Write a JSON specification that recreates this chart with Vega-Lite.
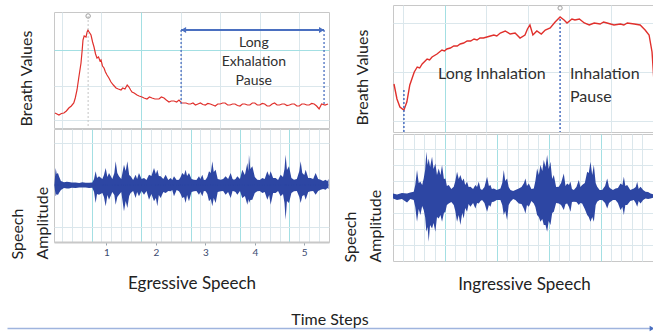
{
  "$schema": "https://vega.github.io/schema/vega-lite/v6.json",
  "background": "white",
  "padding": {"left": 8, "top": 3, "right": 0, "bottom": 0},
  "config": {"font": "Lato", "view": {"stroke": "#c8c8c8"}},
  "datasets": {
    "leftBreath": [
      {"t":-0.04,"v":15},{"t":0.0,"v":14},{"t":0.04,"v":13},{"t":0.09,"v":14.5},{"t":0.14,"v":15},{"t":0.19,"v":17},{"t":0.24,"v":20},{"t":0.29,"v":22},{"t":0.34,"v":25},{"t":0.37,"v":30},{"t":0.405,"v":38},{"t":0.44,"v":50},{"t":0.486,"v":65},{"t":0.51,"v":78},{"t":0.526,"v":88},{"t":0.55,"v":92},{"t":0.587,"v":91},{"t":0.61,"v":96},{"t":0.627,"v":98},{"t":0.65,"v":96},{"t":0.688,"v":93},{"t":0.72,"v":86},{"t":0.749,"v":81},{"t":0.78,"v":74},{"t":0.809,"v":70},{"t":0.84,"v":71},{"t":0.87,"v":67},{"t":0.89,"v":68},{"t":0.92,"v":62},{"t":0.951,"v":60},{"t":0.98,"v":56},{"t":1.012,"v":53},{"t":1.05,"v":50},{"t":1.092,"v":46},{"t":1.14,"v":43},{"t":1.194,"v":40},{"t":1.24,"v":39},{"t":1.295,"v":38},{"t":1.33,"v":40},{"t":1.375,"v":39},{"t":1.42,"v":43},{"t":1.456,"v":41},{"t":1.49,"v":38},{"t":1.517,"v":36},{"t":1.56,"v":35},{"t":1.618,"v":33},{"t":1.66,"v":32},{"t":1.719,"v":31},{"t":1.76,"v":30},{"t":1.82,"v":29},{"t":1.87,"v":31},{"t":1.921,"v":30},{"t":1.98,"v":29},{"t":2.063,"v":29},{"t":2.11,"v":31},{"t":2.164,"v":30},{"t":2.21,"v":28},{"t":2.265,"v":26},{"t":2.31,"v":27},{"t":2.366,"v":27},{"t":2.42,"v":26},{"t":2.467,"v":28},{"t":2.52,"v":25},{"t":2.609,"v":25},{"t":2.66,"v":24},{"t":2.7,"v":24},{"t":2.75,"v":25},{"t":2.8,"v":23},{"t":2.85,"v":24},{"t":2.9,"v":25},{"t":2.95,"v":23.5},{"t":3.0,"v":23},{"t":3.05,"v":24.5},{"t":3.1,"v":24},{"t":3.15,"v":23},{"t":3.2,"v":22},{"t":3.25,"v":24},{"t":3.3,"v":24},{"t":3.35,"v":25},{"t":3.4,"v":25},{"t":3.45,"v":23},{"t":3.5,"v":23},{"t":3.55,"v":24},{"t":3.6,"v":24},{"t":3.65,"v":22.5},{"t":3.7,"v":22},{"t":3.75,"v":24},{"t":3.8,"v":24},{"t":3.85,"v":23},{"t":3.9,"v":23},{"t":3.95,"v":25},{"t":4.0,"v":25},{"t":4.05,"v":23},{"t":4.1,"v":23},{"t":4.15,"v":24.5},{"t":4.2,"v":24},{"t":4.25,"v":22},{"t":4.3,"v":22},{"t":4.35,"v":24},{"t":4.4,"v":25},{"t":4.45,"v":23},{"t":4.5,"v":23},{"t":4.55,"v":24},{"t":4.6,"v":24},{"t":4.65,"v":22.5},{"t":4.7,"v":23},{"t":4.75,"v":24},{"t":4.8,"v":24},{"t":4.85,"v":22},{"t":4.9,"v":22},{"t":4.95,"v":24},{"t":5.0,"v":24},{"t":5.05,"v":23},{"t":5.1,"v":23},{"t":5.15,"v":24.5},{"t":5.2,"v":24},{"t":5.25,"v":22},{"t":5.3,"v":19},{"t":5.35,"v":24},{"t":5.42,"v":23},{"t":5.48,"v":24}
    ],
    "leftPeak": [{"t": 0.63, "v": 112}],
    "leftPauseEdges": [{"t": 2.51, "top": 98, "bottom": 23}, {"t": 5.4, "top": 98, "bottom": 23}],
    "leftPause": [{"start": 2.51, "end": 5.4, "level": 98}],
    "leftArrowHeads": [{"t": 2.56, "v": 98, "dir": "left"}, {"t": 5.35, "v": 98, "dir": "right"}],
    "leftLabel": [{"t": 3.98, "v": 85, "label": "Long\nExhalation\nPause"}],
    "leftSpeech": [
      {"t":-0.05,"up":1.5,"lo":-1.5},{"t":-0.026,"up":17,"lo":-11.3},{"t":-0.005,"up":11,"lo":-9},{"t":0.02,"up":12,"lo":-10},{"t":0.041,"up":8.7,"lo":-8},{"t":0.08,"up":4,"lo":-5},{"t":0.142,"up":2.7,"lo":-3},{"t":0.2,"up":3.2,"lo":-3.5},{"t":0.243,"up":3,"lo":-3.5},{"t":0.3,"up":2.4,"lo":-2.8},{"t":0.378,"up":2.5,"lo":-3},{"t":0.45,"up":2,"lo":-2.6},{"t":0.513,"up":2.7,"lo":-2.5},{"t":0.58,"up":2.2,"lo":-2.6},{"t":0.648,"up":2.3,"lo":-3},{"t":0.715,"up":2.5,"lo":-2.8},{"t":0.75,"up":6,"lo":-7},{"t":0.782,"up":13.7,"lo":-18},{"t":0.81,"up":7,"lo":-9},{"t":0.85,"up":8.7,"lo":-9.7},{"t":0.917,"up":6,"lo":-8},{"t":0.95,"up":10,"lo":-12},{"t":0.985,"up":17,"lo":-21.3},{"t":1.02,"up":8,"lo":-10},{"t":1.052,"up":12,"lo":-14.7},{"t":1.119,"up":6,"lo":-7},{"t":1.16,"up":12,"lo":-10},{"t":1.187,"up":23.7,"lo":-19.7},{"t":1.22,"up":12,"lo":-12},{"t":1.254,"up":8.7,"lo":-9.7},{"t":1.3,"up":6,"lo":-7},{"t":1.355,"up":20.3,"lo":-26.3},{"t":1.39,"up":14,"lo":-16},{"t":1.423,"up":23.7,"lo":-23},{"t":1.46,"up":10,"lo":-11},{"t":1.49,"up":8.7,"lo":-8},{"t":1.54,"up":5,"lo":-6},{"t":1.591,"up":10.3,"lo":-13},{"t":1.62,"up":6,"lo":-7},{"t":1.658,"up":12,"lo":-11.3},{"t":1.71,"up":6,"lo":-6},{"t":1.76,"up":7,"lo":-9.7},{"t":1.81,"up":5,"lo":-6},{"t":1.861,"up":10.3,"lo":-14.7},{"t":1.91,"up":9,"lo":-9},{"t":1.962,"up":17,"lo":-16.3},{"t":2.0,"up":11,"lo":-13},{"t":2.029,"up":15.3,"lo":-21.3},{"t":2.06,"up":9,"lo":-10},{"t":2.096,"up":8.7,"lo":-13},{"t":2.15,"up":6,"lo":-7},{"t":2.198,"up":10.3,"lo":-8},{"t":2.25,"up":5,"lo":-6},{"t":2.299,"up":7,"lo":-6.3},{"t":2.33,"up":5,"lo":-5},{"t":2.366,"up":8.7,"lo":-11.3},{"t":2.42,"up":5,"lo":-5},{"t":2.467,"up":5.3,"lo":-6.3},{"t":2.5,"up":8,"lo":-9},{"t":2.534,"up":12,"lo":-13},{"t":2.57,"up":10,"lo":-12},{"t":2.602,"up":15.3,"lo":-18},{"t":2.63,"up":9,"lo":-10},{"t":2.669,"up":12,"lo":-16.3},{"t":2.72,"up":6,"lo":-7},{"t":2.77,"up":5.3,"lo":-6.3},{"t":2.82,"up":5,"lo":-6},{"t":2.871,"up":8.7,"lo":-9.7},{"t":2.9,"up":6,"lo":-7},{"t":2.939,"up":10.3,"lo":-11.3},{"t":2.97,"up":5,"lo":-6},{"t":3.006,"up":5.3,"lo":-6.3},{"t":3.04,"up":8,"lo":-9},{"t":3.074,"up":13.7,"lo":-16.3},{"t":3.11,"up":12,"lo":-14},{"t":3.141,"up":23.7,"lo":-21.3},{"t":3.17,"up":13,"lo":-13},{"t":3.208,"up":15.3,"lo":-18},{"t":3.25,"up":6,"lo":-7},{"t":3.309,"up":5.3,"lo":-6.3},{"t":3.36,"up":6,"lo":-6},{"t":3.41,"up":8.7,"lo":-9.7},{"t":3.46,"up":6,"lo":-7},{"t":3.512,"up":12,"lo":-13},{"t":3.55,"up":6,"lo":-6},{"t":3.579,"up":5.3,"lo":-6.3},{"t":3.61,"up":6,"lo":-7},{"t":3.646,"up":8.7,"lo":-9.7},{"t":3.7,"up":6,"lo":-6},{"t":3.747,"up":15.3,"lo":-13},{"t":3.8,"up":10,"lo":-11},{"t":3.849,"up":22,"lo":-19.7},{"t":3.87,"up":14,"lo":-14},{"t":3.882,"up":30.3,"lo":-18},{"t":3.91,"up":16,"lo":-15},{"t":3.95,"up":18.7,"lo":-14.7},{"t":4.0,"up":8,"lo":-8},{"t":4.051,"up":5.3,"lo":-6.3},{"t":4.1,"up":5,"lo":-6},{"t":4.152,"up":7,"lo":-8},{"t":4.2,"up":6,"lo":-7},{"t":4.253,"up":13.7,"lo":-14.7},{"t":4.29,"up":9,"lo":-10},{"t":4.32,"up":13.7,"lo":-19.7},{"t":4.37,"up":7,"lo":-8},{"t":4.421,"up":7,"lo":-8},{"t":4.47,"up":5,"lo":-6},{"t":4.522,"up":10.3,"lo":-11.3},{"t":4.57,"up":8,"lo":-9},{"t":4.6,"up":16,"lo":-18},{"t":4.623,"up":30.3,"lo":-34.7},{"t":4.65,"up":15,"lo":-16},{"t":4.691,"up":18.7,"lo":-18},{"t":4.74,"up":7,"lo":-8},{"t":4.792,"up":5.3,"lo":-6.3},{"t":4.85,"up":6,"lo":-6},{"t":4.9,"up":14,"lo":-12},{"t":4.927,"up":23.7,"lo":-18},{"t":4.96,"up":12,"lo":-11},{"t":5.0,"up":10,"lo":-10},{"t":5.028,"up":15.3,"lo":-14.7},{"t":5.08,"up":7,"lo":-7},{"t":5.129,"up":7,"lo":-6.3},{"t":5.18,"up":6,"lo":-6},{"t":5.23,"up":12,"lo":-9.7},{"t":5.28,"up":6,"lo":-6},{"t":5.331,"up":5.3,"lo":-4.7},{"t":5.38,"up":4,"lo":-4},{"t":5.432,"up":5.3,"lo":-4.7},{"t":5.466,"up":3.7,"lo":-3},{"t":5.49,"up":6,"lo":-4}
    ],
    "rightBreath": [
      {"t":0.02,"v":48},{"t":0.08,"v":33},{"t":0.14,"v":25},{"t":0.22,"v":22},{"t":0.28,"v":30},{"t":0.34,"v":47},{"t":0.43,"v":60},{"t":0.49,"v":65},{"t":0.54,"v":64},{"t":0.59,"v":68},{"t":0.69,"v":73},{"t":0.74,"v":72},{"t":0.79,"v":75},{"t":0.89,"v":78},{"t":0.99,"v":82},{"t":1.04,"v":81},{"t":1.09,"v":83},{"t":1.16,"v":84},{"t":1.23,"v":86},{"t":1.3,"v":86},{"t":1.36,"v":88},{"t":1.43,"v":89},{"t":1.5,"v":91},{"t":1.57,"v":91},{"t":1.64,"v":93},{"t":1.7,"v":92},{"t":1.76,"v":94},{"t":1.83,"v":94},{"t":1.9,"v":95},{"t":1.97,"v":96},{"t":2.04,"v":97},{"t":2.1,"v":96},{"t":2.17,"v":99},{"t":2.27,"v":101},{"t":2.37,"v":98},{"t":2.47,"v":99},{"t":2.57,"v":94},{"t":2.67,"v":97},{"t":2.72,"v":103},{"t":2.77,"v":107},{"t":2.83,"v":97},{"t":2.91,"v":101},{"t":3.0,"v":98},{"t":3.08,"v":102},{"t":3.18,"v":104},{"t":3.28,"v":110},{"t":3.38,"v":115},{"t":3.46,"v":112},{"t":3.52,"v":109},{"t":3.62,"v":113},{"t":3.68,"v":112},{"t":3.77,"v":113},{"t":3.87,"v":109},{"t":3.97,"v":107},{"t":4.07,"v":109},{"t":4.19,"v":108},{"t":4.26,"v":110},{"t":4.33,"v":109},{"t":4.4,"v":108},{"t":4.47,"v":107},{"t":4.6,"v":108},{"t":4.67,"v":107},{"t":4.74,"v":109},{"t":4.88,"v":108},{"t":5.0,"v":107},{"t":5.1,"v":102},{"t":5.18,"v":97},{"t":5.24,"v":80},{"t":5.28,"v":50}
    ],
    "rightLines": [{"t": 0.22, "top": 42}, {"t": 3.38, "top": 113}],
    "rightPeak": [{"t": 3.38, "v": 124}],
    "rightLabelA": [{"t": 2.0, "v": 58, "label": "Long Inhalation"}],
    "rightLabelB": [{"t": 3.58, "v": 58, "label": "Inhalation\nPause"}],
    "rightSpeech": [
      {"t":0.0,"up":1.6,"lo":-3.4},{"t":0.081,"up":0.6,"lo":-5},{"t":0.18,"up":2,"lo":-4},{"t":0.284,"up":1.6,"lo":-7.4},{"t":0.35,"up":2.5,"lo":-4},{"t":0.419,"up":3.3,"lo":-5},{"t":0.45,"up":10,"lo":-12},{"t":0.486,"up":25,"lo":-26.7},{"t":0.52,"up":12,"lo":-14},{"t":0.554,"up":13.3,"lo":-20},{"t":0.59,"up":10,"lo":-11},{"t":0.621,"up":16.6,"lo":-15},{"t":0.65,"up":25,"lo":-22},{"t":0.675,"up":43.3,"lo":-36.7},{"t":0.7,"up":30,"lo":-32},{"t":0.722,"up":36.6,"lo":-46.7},{"t":0.75,"up":28,"lo":-30},{"t":0.79,"up":38.3,"lo":-33.4},{"t":0.82,"up":26,"lo":-28},{"t":0.857,"up":31.6,"lo":-36.7},{"t":0.89,"up":20,"lo":-22},{"t":0.925,"up":26.6,"lo":-23.4},{"t":0.96,"up":20,"lo":-20},{"t":0.992,"up":30,"lo":-26.7},{"t":1.03,"up":16,"lo":-18},{"t":1.06,"up":16.6,"lo":-16.7},{"t":1.09,"up":9,"lo":-10},{"t":1.127,"up":10,"lo":-8.4},{"t":1.18,"up":6,"lo":-7},{"t":1.229,"up":8.3,"lo":-10},{"t":1.26,"up":14,"lo":-16},{"t":1.296,"up":23.3,"lo":-26.7},{"t":1.33,"up":16,"lo":-20},{"t":1.363,"up":20,"lo":-30},{"t":1.4,"up":14,"lo":-18},{"t":1.431,"up":16.6,"lo":-23.4},{"t":1.46,"up":10,"lo":-13},{"t":1.498,"up":13.3,"lo":-16.7},{"t":1.53,"up":8,"lo":-9},{"t":1.566,"up":8.3,"lo":-11.7},{"t":1.62,"up":6,"lo":-8},{"t":1.667,"up":10,"lo":-13.4},{"t":1.7,"up":8,"lo":-8},{"t":1.735,"up":13.3,"lo":-8.4},{"t":1.77,"up":6,"lo":-6},{"t":1.802,"up":5,"lo":-5},{"t":1.85,"up":8,"lo":-8},{"t":1.903,"up":18.3,"lo":-16.7},{"t":1.94,"up":9,"lo":-10},{"t":1.971,"up":10,"lo":-11.7},{"t":2.0,"up":6,"lo":-7},{"t":2.038,"up":6.6,"lo":-6.7},{"t":2.1,"up":5,"lo":-5},{"t":2.173,"up":6.6,"lo":-5},{"t":2.21,"up":12,"lo":-10},{"t":2.241,"up":25,"lo":-20},{"t":2.27,"up":14,"lo":-16},{"t":2.308,"up":16.6,"lo":-25},{"t":2.34,"up":8,"lo":-10},{"t":2.376,"up":5,"lo":-6.7},{"t":2.43,"up":4,"lo":-4},{"t":2.477,"up":5,"lo":-5},{"t":2.544,"up":6.6,"lo":-8.4},{"t":2.6,"up":8,"lo":-9},{"t":2.65,"up":12,"lo":-14},{"t":2.679,"up":16.6,"lo":-18.4},{"t":2.71,"up":9,"lo":-10},{"t":2.747,"up":11.6,"lo":-11.7},{"t":2.8,"up":6,"lo":-6},{"t":2.848,"up":6.6,"lo":-8.4},{"t":2.88,"up":14,"lo":-12},{"t":2.915,"up":26.6,"lo":-20},{"t":2.95,"up":20,"lo":-22},{"t":2.983,"up":30,"lo":-26.7},{"t":3.02,"up":24,"lo":-24},{"t":3.05,"up":35,"lo":-30},{"t":3.085,"up":28,"lo":-30},{"t":3.118,"up":40,"lo":-36.7},{"t":3.15,"up":26,"lo":-26},{"t":3.185,"up":33.3,"lo":-30},{"t":3.22,"up":16,"lo":-18},{"t":3.253,"up":20,"lo":-16.7},{"t":3.3,"up":8,"lo":-8},{"t":3.354,"up":8.3,"lo":-8.4},{"t":3.4,"up":12,"lo":-10},{"t":3.455,"up":21.6,"lo":-15},{"t":3.49,"up":9,"lo":-9},{"t":3.523,"up":11.6,"lo":-8.4},{"t":3.56,"up":10,"lo":-12},{"t":3.59,"up":13.3,"lo":-16.7},{"t":3.62,"up":6,"lo":-7},{"t":3.658,"up":5,"lo":-6.7},{"t":3.71,"up":8,"lo":-7},{"t":3.759,"up":15,"lo":-10},{"t":3.79,"up":8,"lo":-8},{"t":3.826,"up":10,"lo":-8.4},{"t":3.88,"up":12,"lo":-14},{"t":3.928,"up":23.3,"lo":-20},{"t":3.96,"up":22,"lo":-22},{"t":3.995,"up":33.3,"lo":-26.7},{"t":4.03,"up":20,"lo":-22},{"t":4.063,"up":30,"lo":-26.7},{"t":4.1,"up":12,"lo":-10},{"t":4.13,"up":8.3,"lo":-6.7},{"t":4.18,"up":5,"lo":-5},{"t":4.231,"up":5,"lo":-5},{"t":4.29,"up":9,"lo":-8},{"t":4.333,"up":16.6,"lo":-13.4},{"t":4.37,"up":8,"lo":-8},{"t":4.4,"up":6.6,"lo":-6.7},{"t":4.45,"up":5,"lo":-5},{"t":4.501,"up":6.6,"lo":-5},{"t":4.55,"up":7,"lo":-8},{"t":4.602,"up":11.6,"lo":-15},{"t":4.64,"up":10,"lo":-12},{"t":4.67,"up":18.3,"lo":-20},{"t":4.7,"up":9,"lo":-10},{"t":4.737,"up":10,"lo":-10},{"t":4.8,"up":5,"lo":-6},{"t":4.872,"up":6.6,"lo":-5},{"t":4.91,"up":8,"lo":-8},{"t":4.94,"up":13.3,"lo":-11.7},{"t":4.97,"up":6,"lo":-6},{"t":5.007,"up":8.3,"lo":-8.4},{"t":5.06,"up":5,"lo":-5},{"t":5.109,"up":3.3,"lo":-3.4},{"t":5.16,"up":3,"lo":-4},{"t":5.21,"up":1.6,"lo":-3.4},{"t":5.277,"up":0.6,"lo":-2.4},{"t":5.3,"up":1,"lo":-2}
    ],
    "timeEnd": [{"time": 1}]
  },
  "vconcat": [
    {
      "hconcat": [
        {
          "vconcat": [
            {
              "width": 275,
              "height": 7,
              "view": {"stroke": null},
              "data": {"values": []},
              "mark": {"type": "point", "opacity": 0},
              "encoding": {}
            },
            {
              "width": 275,
              "height": 116,
              "layer": [
                {
                  "data": {"name": "leftBreath"},
                  "mark": {"type": "line", "color": "#e0302c", "strokeWidth": 1.2},
                  "encoding": {
                    "x": {"field": "t", "type": "quantitative", "scale": {"domain": [-0.06, 5.5], "nice": false, "zero": false},
                      "axis": {"values": [0.1,0.3,0.5,0.7,0.9,1.1,1.3,1.5,1.7,1.9,2.1,2.3,2.5,2.7,2.9,3.1,3.3,3.5,3.7,3.9,4.1,4.3,4.5,4.7,4.9,5.1,5.3],
                        "labels": false, "ticks": false, "domain": false, "title": null, "grid": true,
                        "gridColor": {"condition": {"test": "abs(datum.value-0.7-round(datum.value-0.7))<0.01", "value": "#a3dfe3"}, "value": "#dbe7ec"}}},
                    "y": {"field": "v", "type": "quantitative", "scale": {"domain": [0, 116], "nice": false, "zero": false},
                      "axis": {"values": [8, 25, 42, 60, 78, 95], "labels": false, "ticks": false, "domain": false, "grid": true,
                        "gridColor": {"condition": {"test": "datum.value==25||datum.value==78", "value": "#a3dfe3"}, "value": "#dbe7ec"},
                        "title": "Breath Values", "titleFontSize": 16, "titleFontWeight": "normal", "titleColor": "#222", "titlePadding": 20, "titleY": 66}}
                  }
                },
                {
                  "data": {"name": "leftPeak"},
                  "mark": {"type": "rule", "color": "#c4c4c4", "strokeDash": [2, 2], "strokeWidth": 1},
                  "encoding": {"x": {"field": "t", "type": "quantitative"}, "y": {"field": "v", "type": "quantitative"}, "y2": {"datum": 0}}
                },
                {
                  "data": {"name": "leftPeak"},
                  "mark": {"type": "point", "shape": "circle", "filled": false, "color": "#777", "size": 20, "strokeWidth": 1},
                  "encoding": {"x": {"field": "t", "type": "quantitative"}, "y": {"field": "v", "type": "quantitative"}}
                },
                {
                  "data": {"name": "leftPauseEdges"},
                  "mark": {"type": "rule", "color": "#4a6fc0", "strokeDash": [2, 2], "strokeWidth": 1.3},
                  "encoding": {"x": {"field": "t", "type": "quantitative"}, "y": {"field": "top", "type": "quantitative"}, "y2": {"field": "bottom"}}
                },
                {
                  "data": {"name": "leftPause"},
                  "mark": {"type": "rule", "color": "#4a6fc0", "strokeWidth": 2},
                  "encoding": {"x": {"field": "start", "type": "quantitative"}, "x2": {"field": "end"}, "y": {"field": "level", "type": "quantitative"}}
                },
                {
                  "data": {"name": "leftArrowHeads"},
                  "mark": {"type": "point", "filled": true, "color": "#4a6fc0", "size": 35, "opacity": 1},
                  "encoding": {"x": {"field": "t", "type": "quantitative"}, "y": {"field": "v", "type": "quantitative"},
                    "shape": {"field": "dir", "type": "nominal", "scale": {"domain": ["left", "right"], "range": ["triangle-left", "triangle-right"]}, "legend": null}}
                },
                {
                  "data": {"name": "leftLabel"},
                  "mark": {"type": "text", "align": "center", "baseline": "middle", "fontSize": 14, "lineHeight": 19, "lineBreak": "\n", "color": "#303030"},
                  "encoding": {"x": {"field": "t", "type": "quantitative"}, "y": {"field": "v", "type": "quantitative"}, "text": {"field": "label"}}
                }
              ]
            },
            {
              "width": 275,
              "height": 113,
              "layer": [
                {
                  "data": {"name": "leftSpeech"},
                  "mark": {"type": "area", "color": "#2d46a3", "opacity": 1},
                  "encoding": {
                    "x": {"field": "t", "type": "quantitative", "scale": {"domain": [-0.06, 5.5], "nice": false, "zero": false},
                      "axis": {"orient": "top", "values": [0.1,0.3,0.5,0.7,0.9,1.1,1.3,1.5,1.7,1.9,2.1,2.3,2.5,2.7,2.9,3.1,3.3,3.5,3.7,3.9,4.1,4.3,4.5,4.7,4.9,5.1,5.3],
                        "labels": false, "ticks": false, "domain": false, "title": null, "grid": true,
                        "gridColor": {"condition": {"test": "abs(datum.value-0.7-round(datum.value-0.7))<0.01", "value": "#a3dfe3"}, "value": "#dbe7ec"}}},
                    "y": {"field": "up", "type": "quantitative", "scale": {"domain": [-57, 56], "nice": false, "zero": false},
                      "axis": {"values": [-42, -28, -14, 0, 14, 28, 42], "labels": false, "ticks": false, "domain": false, "grid": true, "gridColor": "#dbe7ec",
                        "title": ["Speech", "Amplitude"], "titleFontSize": 16, "titleFontWeight": "normal", "titleColor": "#222", "titlePadding": 4,
                        "titleLineHeight": 25, "titleAlign": "left", "titleY": 130}},
                    "y2": {"field": "lo"}
                  }
                },
                {
                  "data": {"name": "leftSpeech"},
                  "mark": {"type": "line", "color": "#2d46a3", "strokeWidth": 1},
                  "encoding": {
                    "x": {"field": "t", "type": "quantitative",
                      "axis": {"orient": "bottom", "values": [1, 2, 3, 4, 5], "format": "d", "grid": false,
                        "labelFontSize": 10, "labelColor": "#3b4a70", "labelPadding": 2,
                        "ticks": true, "tickSize": 3, "tickColor": "#9aa4ad", "domain": true, "domainColor": "#c8c8c8", "domainWidth": 2,
                        "title": "Egressive Speech", "titleFontSize": 17, "titleFontWeight": "normal", "titleColor": "#222", "titlePadding": 18}},
                    "y": {"datum": 0, "type": "quantitative"}
                  }
                }
              ],
              "resolve": {"axis": {"x": "independent"}}
            }
          ],
          "spacing": -3
        },
        {
          "vconcat": [
            {
              "width": 262,
              "height": 127,
              "layer": [
                {
                  "data": {"name": "rightBreath"},
                  "mark": {"type": "line", "color": "#e0302c", "strokeWidth": 1.4},
                  "encoding": {
                    "x": {"field": "t", "type": "quantitative", "scale": {"domain": [0, 5.3], "nice": false, "zero": false},
                      "axis": {"values": [0.21,0.42,0.63,0.84,1.05,1.26,1.47,1.68,1.89,2.1,2.31,2.52,2.73,2.94,3.15,3.36,3.57,3.78,3.99,4.2,4.41,4.62,4.83,5.04,5.25],
                        "labels": false, "ticks": false, "domain": false, "title": null, "grid": true,
                        "gridColor": {"condition": {"test": "abs(datum.value/1.05-round(datum.value/1.05))<0.01", "value": "#a3dfe3"}, "value": "#dbe7ec"}}},
                    "y": {"field": "v", "type": "quantitative", "scale": {"domain": [0, 127], "nice": false, "zero": false},
                      "axis": {"values": [11, 23, 35, 48, 60, 72, 85, 97, 109, 121], "labels": false, "ticks": false, "domain": false, "grid": true,
                        "gridColor": {"condition": {"test": "datum.value==23||datum.value==72||datum.value==121", "value": "#a3dfe3"}, "value": "#dbe7ec"},
                        "title": "Breath Values", "titleFontSize": 16, "titleFontWeight": "normal", "titleColor": "#222", "titlePadding": 23, "titleY": 72}}
                  }
                },
                {
                  "data": {"name": "rightLines"},
                  "mark": {"type": "rule", "color": "#4a6fc0", "strokeDash": [2, 2], "strokeWidth": 1.5},
                  "encoding": {"x": {"field": "t", "type": "quantitative"}, "y": {"field": "top", "type": "quantitative"}, "y2": {"datum": 0}}
                },
                {
                  "data": {"name": "rightPeak"},
                  "mark": {"type": "point", "shape": "circle", "filled": false, "color": "#777", "size": 18, "strokeWidth": 1},
                  "encoding": {"x": {"field": "t", "type": "quantitative"}, "y": {"field": "v", "type": "quantitative"}}
                },
                {
                  "data": {"name": "rightLabelA"},
                  "mark": {"type": "text", "align": "center", "baseline": "middle", "fontSize": 16, "color": "#303030"},
                  "encoding": {"x": {"field": "t", "type": "quantitative"}, "y": {"field": "v", "type": "quantitative"}, "text": {"field": "label"}}
                },
                {
                  "data": {"name": "rightLabelB"},
                  "mark": {"type": "text", "align": "left", "baseline": "middle", "fontSize": 16, "lineHeight": 23, "lineBreak": "\n", "color": "#303030"},
                  "encoding": {"x": {"field": "t", "type": "quantitative"}, "y": {"field": "v", "type": "quantitative"}, "text": {"field": "label"}}
                }
              ]
            },
            {
              "width": 262,
              "height": 127,
              "data": {"name": "rightSpeech"},
              "mark": {"type": "area", "color": "#2d46a3", "opacity": 1},
              "encoding": {
                "x": {"field": "t", "type": "quantitative", "scale": {"domain": [0, 5.3], "nice": false, "zero": false},
                  "axis": {"values": [0.21,0.42,0.63,0.84,1.05,1.26,1.47,1.68,1.89,2.1,2.31,2.52,2.73,2.94,3.15,3.36,3.57,3.78,3.99,4.2,4.41,4.62,4.83,5.04,5.25],
                    "labels": false, "ticks": false, "domain": false, "grid": true,
                    "gridColor": {"condition": {"test": "abs(datum.value/1.05-round(datum.value/1.05))<0.01", "value": "#a3dfe3"}, "value": "#dbe7ec"},
                    "title": "Ingressive Speech", "titleFontSize": 17, "titleFontWeight": "normal", "titleColor": "#222", "titlePadding": 15}},
                "y": {"field": "up", "type": "quantitative", "scale": {"domain": [-66, 61], "nice": false, "zero": false},
                  "axis": {"values": [-50, -34, -18, -2, 14, 30, 46], "labels": false, "ticks": false, "domain": false, "grid": true, "gridColor": "#dbe7ec",
                    "title": ["Speech", "Amplitude"], "titleFontSize": 16, "titleFontWeight": "normal", "titleColor": "#222", "titlePadding": 10,
                    "titleLineHeight": 25, "titleAlign": "left", "titleY": 128}},
                "y2": {"field": "lo"}
              }
            }
          ],
          "spacing": -5
        }
      ],
      "spacing": 9
    },
    {
      "width": 598,
      "height": 1,
      "view": {"stroke": null},
      "data": {"name": "timeEnd"},
      "mark": {"type": "point", "shape": "triangle-right", "filled": true, "color": "#4a6fc0", "size": 30, "opacity": 1},
      "encoding": {
        "x": {"field": "time", "type": "quantitative", "scale": {"domain": [0, 1], "nice": false, "range": [-47, 598]},
          "axis": {"orient": "top", "domainColor": "#9fb4de", "domainWidth": 1.5, "labels": false, "ticks": false, "grid": false,
            "title": "Time Steps", "titleFontSize": 16, "titleFontWeight": "normal", "titleColor": "#222", "titlePadding": 1}}
      }
    }
  ],
  "spacing": 18
}
